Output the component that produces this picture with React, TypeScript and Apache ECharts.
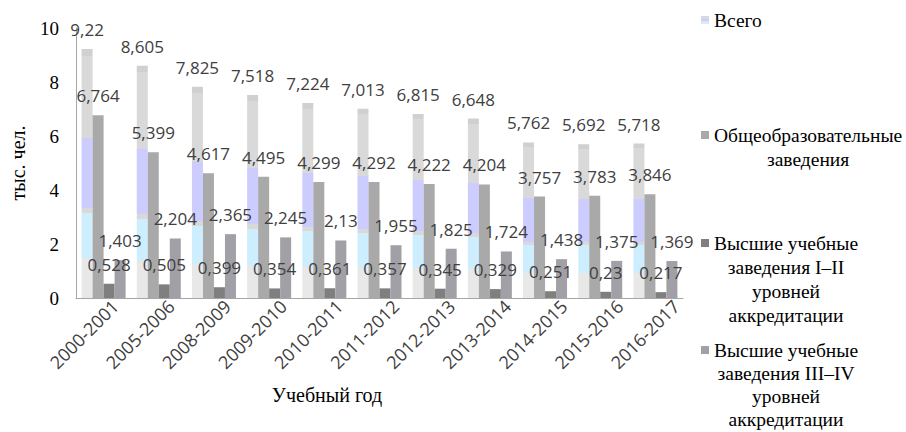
import React, { useEffect, useRef } from "react";
import * as echarts from "echarts";

// ---- data ----
const years = [
  "2000-2001", "2005-2006", "2008-2009", "2009-2010", "2010-2011", "2011-2012",
  "2012-2013", "2013-2014", "2014-2015", "2015-2016", "2016-2017",
];
const totalValues = [9.22, 8.605, 7.825, 7.518, 7.224, 7.013, 6.815, 6.648, 5.762, 5.692, 5.718];
const generalValues = [6.764, 5.399, 4.617, 4.495, 4.299, 4.292, 4.222, 4.204, 3.757, 3.783, 3.846];
const higherI_II = [0.528, 0.505, 0.399, 0.354, 0.361, 0.357, 0.345, 0.329, 0.251, 0.23, 0.217];
const higherIII_IV = [1.403, 2.204, 2.365, 2.245, 2.13, 1.955, 1.825, 1.724, 1.438, 1.375, 1.369];
const seriesNames = [
  "Всего",
  "Общеобразовательные заведения",
  "Высшие учебные заведения I–II уровней аккредитации",
  "Высшие учебные заведения III–IV уровней аккредитации",
];
const legendLines = [
  ["Всего"],
  ["Общеобразовательные", "заведения"],
  ["Высшие учебные", "заведения I–II", "уровней", "аккредитации"],
  ["Высшие учебные", "заведения III–IV", "уровней", "аккредитации"],
];
const legendTop = [10, 125, 233, 340];
const legendLineH = [24.5, 24.5, 24.3, 23.2];
const yMin = 0;
const yMax = 10;
const yStep = 2;
const yAxisTitle = "тыс. чел.";
const xAxisTitle = "Учебный год";

const SERIF = "Liberation Serif";
const SANS = "Open Sans";

const totalFill = new echarts.graphic.LinearGradient(0, 0, 0, 1, [
  { offset: 0, color: "#d0d0d0" },
  { offset: 0.029, color: "#d0d0d0" },
  { offset: 0.029, color: "#d9d9d9" },
  { offset: 0.358, color: "#d9d9d9" },
  { offset: 0.358, color: "#ccccff" },
  { offset: 0.637, color: "#ccccff" },
  { offset: 0.637, color: "#d9d9d9" },
  { offset: 0.658, color: "#d9d9d9" },
  { offset: 0.658, color: "#cdeeff" },
  { offset: 0.84, color: "#cdeeff" },
  { offset: 0.84, color: "#e8e8e8" },
  { offset: 1, color: "#e8e8e8" },
]);

const colors = [totalFill, "#a9a9a9", "#7f7f7f", "#a0a0a6"];
const seriesData = [totalValues, generalValues, higherI_II, higherIII_IV];

const fmt = (v: number) => String(v).replace(".", ",");

export default function App() {
  const ref = useRef<HTMLDivElement>(null);
  useEffect(() => {
    if (!ref.current) return;
    const chart = echarts.init(ref.current, null, { renderer: "svg" });

    const legends = legendLines.map((lines, i) => {
      const n = lines.length;
      const lh = legendLineH[i];
      return {
        show: true,
        orient: "vertical",
        left: 701,
        top: legendTop[i],
        padding: 0,
        itemWidth: 8,
        itemHeight: 8,
        icon: "rect",
        selectedMode: false,
        data: [seriesNames[i]],
        formatter: () => lines.map((l) => `{c|${l}}`).join("\n"),
        textStyle: {
          padding: [(n - 1) * lh, 0, 0, 0],
          rich: {
            c: {
              fontFamily: SERIF,
              fontSize: 19.5,
              lineHeight: lh,
              color: "#000",
              align: "center",
            },
          },
        },
      };
    });

    const option: any = {
      animation: false,
      backgroundColor: "#fff",
      title: {
        text: xAxisTitle,
        left: 322,
        top: 380,
        textAlign: "center",
        textStyle: { fontFamily: SERIF, fontSize: 20, fontWeight: "normal", color: "#000" },
      },
      legend: legends,
      grid: [
        { left: 66, right: 223, top: 28, bottom: 134 },
        { left: 87, right: 202, top: 28, bottom: 134 },
      ],
      xAxis: [
        {
          type: "category",
          gridIndex: 0,
          data: years,
          axisLine: { show: true, lineStyle: { color: "#a6a6a6", width: 1 } },
          axisTick: { show: false },
          axisLabel: { show: false },
        },
        {
          type: "category",
          gridIndex: 1,
          data: years,
          axisLine: { show: false },
          axisTick: { show: false },
          axisLabel: {
            interval: 0,
            rotate: 45,
            margin: 5,
            fontFamily: SANS,
            fontSize: 18,
            color: "#404040",
          },
        },
      ],
      yAxis: [
        {
          type: "value",
          gridIndex: 0,
          min: yMin,
          max: yMax,
          interval: yStep,
          name: yAxisTitle,
          nameLocation: "middle",
          nameGap: 48,
          nameTextStyle: { fontFamily: SERIF, fontSize: 20, color: "#000" },
          axisLine: { show: true, lineStyle: { color: "#a6a6a6", width: 1 } },
          axisTick: { show: false },
          splitLine: { show: false },
          axisLabel: { fontFamily: SERIF, fontSize: 19, color: "#000", margin: 17 },
        },
        { type: "value", gridIndex: 1, min: yMin, max: yMax, show: false },
      ],
      series: seriesNames.map((name, i) => ({
        name,
        type: "bar",
        xAxisIndex: 0,
        yAxisIndex: 0,
        data: seriesData[i],
        barWidth: 11,
        barGap: "0%",
        itemStyle: { color: colors[i] },
        label: {
          show: true,
          position: "top",
          distance: 11,
          fontFamily: SANS,
          fontSize: 17,
          color: "#404040",
          formatter: (p: any) => fmt(p.value),
        },
      })),
    };
    chart.setOption(option);
    return () => chart.dispose();
  }, []);
  return (
    <div
      ref={ref}
      style={{ position: "absolute", left: 0, top: 0, width: 906, height: 432 }}
    />
  );
}
